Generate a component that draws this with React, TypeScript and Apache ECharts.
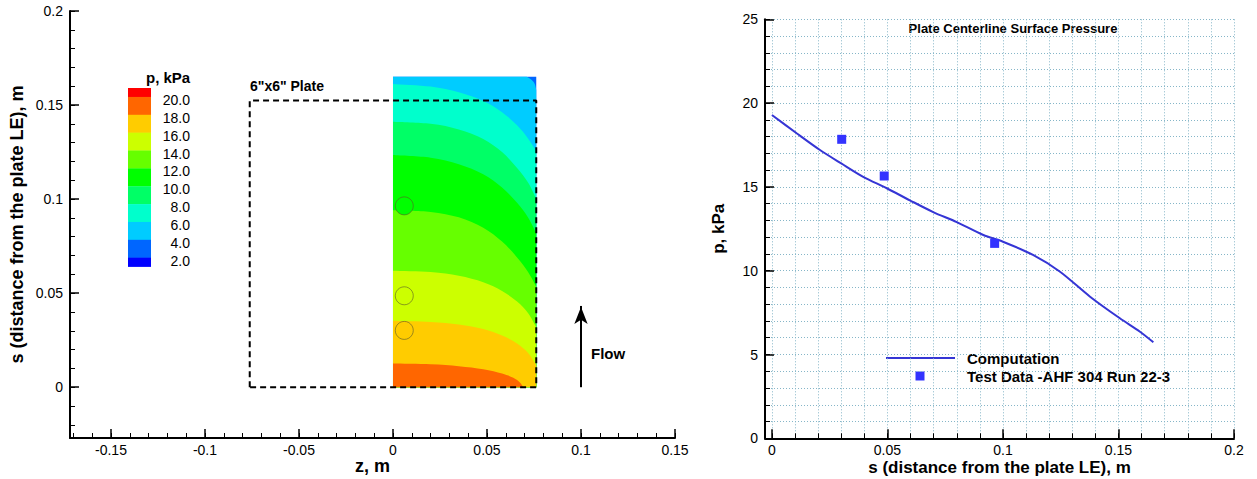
import React, { useEffect, useRef } from "react";
import * as echarts from "echarts";

const FONT = "'Liberation Sans', Arial, Helvetica, sans-serif";

// ---------- Left plot: surface pressure contour ----------
const zMajorTicks = [-0.15, -0.1, -0.05, 0, 0.05, 0.1, 0.15];
const sMajorTicks = [0, 0.05, 0.1, 0.15, 0.2];
const zMinorTicks: number[] = [];
for (let k = -17; k <= 15; k++) zMinorTicks.push(k / 100);
const sMinorTicks: number[] = [];
for (let k = -2; k <= 20; k++) sMinorTicks.push(k / 100);

// colour of each 2 kPa band, from <2 up to >20
const bandColors = [
  "#0000ff", "#0066ff", "#00ccff", "#00ffcc", "#00ff66", "#00ff00",
  "#66ff00", "#ccff00", "#ffcc00", "#ff6600", "#ff0000",
];
const legendLabels = ["20.0", "18.0", "16.0", "14.0", "12.0", "10.0", "8.0", "6.0", "4.0", "2.0"];

// contour region extent (half plate, z >= 0)
const contourZMax = 0.0762;
const contourSMax = 0.165;

// isolines [z, s]
const iso4 = [[0.0711, 0.165], [0.0738, 0.1633], [0.0754, 0.1612], [0.0762, 0.158]];
const iso6 = [[0, 0.1612], [0.02, 0.1598], [0.035, 0.1568], [0.048, 0.1522], [0.058, 0.1462], [0.066, 0.1392], [0.072, 0.132], [0.0762, 0.1255]];
const iso8 = [[0, 0.1411], [0.02, 0.14], [0.035, 0.137], [0.048, 0.132], [0.058, 0.125], [0.066, 0.1165], [0.072, 0.1085], [0.0762, 0.1]];
const iso10 = [[0, 0.1234], [0.02, 0.122], [0.035, 0.1185], [0.048, 0.1132], [0.058, 0.1062], [0.066, 0.098], [0.072, 0.09], [0.0762, 0.0818]];
const iso12 = [[0, 0.0941], [0.02, 0.0932], [0.035, 0.0903], [0.048, 0.0848], [0.058, 0.0774], [0.066, 0.069], [0.072, 0.061], [0.0762, 0.0534]];
const iso14 = [[0, 0.0619], [0.02, 0.0612], [0.035, 0.0592], [0.048, 0.0558], [0.058, 0.0512], [0.066, 0.0455], [0.072, 0.0392], [0.0762, 0.0318]];
const iso16 = [[0, 0.0353], [0.02, 0.0347], [0.035, 0.0333], [0.048, 0.0309], [0.058, 0.0275], [0.066, 0.0232], [0.072, 0.018], [0.0762, 0.0115]];
const iso18 = [[0, 0.0126], [0.02, 0.0122], [0.035, 0.0112], [0.048, 0.0096], [0.058, 0.0073], [0.064, 0.005], [0.0675, 0.0025], [0.0693, 0]];
const contourLevels = [2, 4, 6, 8, 10, 12, 14, 16, 18];
const isolines = [null, iso4, iso6, iso8, iso10, iso12, iso14, iso16, iso18];

// plate outline (6" x 6")
const plateZ = [-0.0762, -0.0762, 0.0762, 0.0762, -0.0762];
const plateS = [0, 0.1524, 0.1524, 0, 0];

// pressure taps
const probeZ = 0.006;
const testS = [0.0302, 0.0486, 0.0964];
const testP = [17.84, 15.65, 11.63];

// flow arrow
const flowZ = 0.1;
const flowS = [0, 0.0472];

// ---------- Right plot: centerline pressure ----------
const sAxisMajor = [0, 0.05, 0.1, 0.15, 0.2];
const sAxisMinor: number[] = [];
for (let k = 0; k <= 20; k++) sAxisMinor.push(k / 100);

const compS = [0, 0.0107, 0.0208, 0.03, 0.0395, 0.0497, 0.0597, 0.0698, 0.08, 0.0915, 0.1, 0.113, 0.1247, 0.1377, 0.1506, 0.1593, 0.1651];
const compP = [19.29, 18.2, 17.2, 16.4, 15.6, 14.92, 14.2, 13.5, 12.9, 12.13, 11.73, 10.94, 9.94, 8.45, 7.16, 6.36, 5.73];

const LINE_BLUE = "#3535d5";
const MARK_BLUE = "#3333ff";

function colorFor(v: number) {
  const i = Math.max(0, Math.min(10, Math.floor(v / 2)));
  return bandColors[i];
}

function smoothPath(pts: number[][]) {
  let d = `M${pts[0][0]},${pts[0][1]}`;
  for (let i = 0; i < pts.length - 1; i++) {
    const p0 = pts[Math.max(i - 1, 0)];
    const p1 = pts[i];
    const p2 = pts[i + 1];
    const p3 = pts[Math.min(i + 2, pts.length - 1)];
    const c1 = [p1[0] + (p2[0] - p0[0]) / 6, p1[1] + (p2[1] - p0[1]) / 6];
    const c2 = [p2[0] - (p3[0] - p1[0]) / 6, p2[1] - (p3[1] - p1[1]) / 6];
    d += ` C${c1[0]},${c1[1]} ${c2[0]},${c2[1]} ${p2[0]},${p2[1]}`;
  }
  return d;
}

const labelStyle = { color: "#000", fontSize: 14, fontFamily: FONT };
const nameStyle = { color: "#000", fontSize: 18, fontWeight: "bold" as const, fontFamily: FONT };

function buildOption() {
  // colour bar legend
  const barTop = 88;
  const unit = 17.86;
  const barX = 128;
  const barW = 23;
  const legendGraphics: any[] = [];
  const topDown = bandColors.slice().reverse();
  let y = barTop;
  topDown.forEach((c, i) => {
    const h = i === 0 || i === topDown.length - 1 ? unit / 2 : unit;
    legendGraphics.push({
      type: "rect",
      shape: { x: barX, y: y, width: barW, height: h + 0.3 },
      style: { fill: c },
      silent: true,
    });
    y += h;
  });
  legendLabels.forEach((t, i) => {
    legendGraphics.push({
      type: "text",
      x: 190,
      y: barTop + unit / 2 + i * unit + 3,
      style: { text: t, fill: "#000", font: `14px ${FONT}`, align: "right", verticalAlign: "middle" },
      silent: true,
    });
  });
  legendGraphics.push({
    type: "text",
    x: 146,
    y: 77,
    style: { text: "p, kPa", fill: "#000", font: `bold 15px ${FONT}`, align: "left", verticalAlign: "middle" },
  });
  legendGraphics.push({
    type: "text",
    x: 250,
    y: 86,
    style: { text: '6"x6" Plate', fill: "#000", font: `bold 14px ${FONT}`, align: "left", verticalAlign: "middle" },
  });
  legendGraphics.push({
    type: "text",
    x: 591,
    y: 353,
    style: { text: "Flow", fill: "#000", font: `bold 15px ${FONT}`, align: "left", verticalAlign: "middle" },
  });
  // right plot title and legend
  legendGraphics.push({
    type: "text",
    x: 1013,
    y: 28,
    style: { text: "Plate Centerline Surface Pressure", fill: "#000", font: `bold 13px ${FONT}`, align: "center", verticalAlign: "middle" },
  });
  legendGraphics.push({
    type: "line",
    shape: { x1: 886, y1: 358, x2: 955, y2: 358 },
    style: { stroke: LINE_BLUE, lineWidth: 2 },
  });
  legendGraphics.push({
    type: "rect",
    shape: { x: 915.5, y: 371.5, width: 9, height: 9 },
    style: { fill: MARK_BLUE },
  });
  legendGraphics.push({
    type: "text",
    x: 967,
    y: 358,
    style: { text: "Computation", fill: "#000", font: `bold 15px ${FONT}`, align: "left", verticalAlign: "middle" },
  });
  legendGraphics.push({
    type: "text",
    x: 967,
    y: 376,
    style: { text: "Test Data -AHF 304 Run 22-3", fill: "#000", font: `bold 15px ${FONT}`, align: "left", verticalAlign: "middle" },
  });

  const majorTick = (vals: number[] | null) => ({
    show: true,
    inside: true,
    length: 9,
    lineStyle: { color: "#000", width: 1.5 },
    ...(vals ? { customValues: vals } : {}),
  });
  const minorTick = (vals: number[] | null) => ({
    show: true,
    inside: true,
    length: 5,
    lineStyle: { color: "#000", width: 1 },
    ...(vals ? { customValues: vals } : {}),
  });
  const gridDots = { show: true, lineStyle: { color: "#86b6c8", width: 1, type: [1, 2] } };

  return {
    animation: false,
    backgroundColor: "#fff",
    textStyle: { fontFamily: FONT },
    grid: [
      { left: 70, top: 11, width: 605, height: 427, containLabel: false, outerBoundsMode: "none" },
      { left: 765, top: 19.3, width: 469, height: 419, containLabel: false, outerBoundsMode: "none" },
    ],
    xAxis: [
      {
        type: "value", gridIndex: 0, min: -0.1718, max: 0.15, position: "bottom",
        axisLine: { onZero: false, lineStyle: { color: "#000", width: 2 } },
        axisTick: majorTick(zMajorTicks),
        axisLabel: { ...labelStyle, margin: 5, customValues: zMajorTicks },
        splitLine: { show: false },
        name: "z, m", nameLocation: "middle", nameGap: 19, nameMoveOverlap: false,
        nameTextStyle: { ...nameStyle, lineHeight: 18 },
      },
      {
        type: "value", gridIndex: 0, min: -0.1718, max: 0.15, position: "bottom",
        axisLine: { show: false, onZero: false },
        axisTick: minorTick(zMinorTicks),
        axisLabel: { show: false },
        splitLine: { show: false },
      },
      {
        type: "value", gridIndex: 1, min: -0.003, max: 0.2, position: "bottom",
        axisLine: { onZero: false, lineStyle: { color: "#000", width: 2 } },
        axisTick: majorTick(sAxisMajor),
        axisLabel: { ...labelStyle, margin: 5, customValues: sAxisMajor },
        splitLine: { show: false },
        name: "s (distance from the plate LE), m", nameLocation: "middle", nameGap: 21, nameMoveOverlap: false,
        nameTextStyle: { ...nameStyle, fontSize: 17, lineHeight: 17 },
      },
      {
        type: "value", gridIndex: 1, min: -0.003, max: 0.2, position: "bottom",
        axisLine: { show: false, onZero: false },
        axisTick: minorTick(sAxisMinor),
        axisLabel: { show: false },
        splitLine: gridDots,
      },
    ],
    yAxis: [
      {
        type: "value", gridIndex: 0, min: -0.027, max: 0.2, position: "left",
        axisLine: { onZero: false, lineStyle: { color: "#000", width: 2 } },
        axisTick: majorTick(sMajorTicks),
        axisLabel: { ...labelStyle, margin: 7, customValues: sMajorTicks },
        splitLine: { show: false },
        name: "s (distance from the plate LE), m", nameLocation: "middle", nameGap: 44, nameMoveOverlap: false,
        nameTextStyle: nameStyle,
      },
      {
        type: "value", gridIndex: 0, min: -0.027, max: 0.2, position: "left",
        axisLine: { show: false, onZero: false },
        axisTick: minorTick(sMinorTicks),
        axisLabel: { show: false },
        splitLine: { show: false },
      },
      {
        type: "value", gridIndex: 1, min: 0, max: 25, interval: 5, position: "left",
        axisLine: { onZero: false, lineStyle: { color: "#000", width: 2 } },
        axisTick: majorTick(null),
        axisLabel: { ...labelStyle, margin: 7 },
        splitLine: { show: false },
        name: "p, kPa", nameLocation: "middle", nameGap: 38, nameMoveOverlap: false,
        nameTextStyle: { ...nameStyle, fontSize: 17 },
      },
      {
        type: "value", gridIndex: 1, min: 0, max: 25, interval: 1, position: "left",
        axisLine: { show: false, onZero: false },
        axisTick: minorTick(null),
        axisLabel: { show: false },
        splitLine: gridDots,
      },
    ],
    graphic: legendGraphics,
    series: [
      {
        name: "Pressure contour",
        type: "custom",
        xAxisIndex: 0,
        yAxisIndex: 0,
        silent: true,
        data: contourLevels.map((L) => [L]),
        renderItem: (params: any, api: any) => {
          const idx = params.dataIndex;
          const L = contourLevels[idx];
          const color = bandColors[L / 2];
          if (idx === 0) {
            const p0 = api.coord([0, 0]);
            const p1 = api.coord([contourZMax, contourSMax]);
            return {
              type: "rect",
              shape: { x: p0[0], y: p1[1], width: p1[0] - p0[0], height: p0[1] - p1[1] },
              style: { fill: color },
            };
          }
          const iso = isolines[idx] as number[][];
          const pts = iso.map((p) => api.coord(p));
          let d = smoothPath(pts);
          const first = iso[0];
          const last = iso[iso.length - 1];
          if (last[1] > 0) {
            const c = api.coord([contourZMax, 0]);
            d += ` L${c[0]},${c[1]}`;
          }
          const o = api.coord([0, 0]);
          d += ` L${o[0]},${o[1]}`;
          if (first[0] > 0) {
            const c = api.coord([0, contourSMax]);
            d += ` L${c[0]},${c[1]}`;
          }
          d += " Z";
          return { type: "path", shape: { pathData: d }, style: { fill: color } };
        },
        z: 1,
      },
      {
        name: "Pressure taps",
        type: "scatter",
        xAxisIndex: 0,
        yAxisIndex: 0,
        silent: true,
        symbol: "circle",
        symbolSize: 18,
        data: testS.map((s, i) => ({
          value: [probeZ, s],
          itemStyle: { color: colorFor(testP[i]), opacity: 1, borderColor: "rgba(90,90,40,0.6)", borderWidth: 1 },
        })),
        z: 2,
      },
      {
        name: "Plate",
        type: "line",
        xAxisIndex: 0,
        yAxisIndex: 0,
        silent: true,
        symbol: "none",
        lineStyle: { color: "#000", width: 2, type: [6, 4] },
        data: plateZ.map((z, i) => [z, plateS[i]]),
        z: 3,
      },
      {
        name: "Flow",
        type: "line",
        xAxisIndex: 0,
        yAxisIndex: 0,
        silent: true,
        symbol: "none",
        lineStyle: { color: "#000", width: 2 },
        data: flowS.map((s) => [flowZ, s - (s > 0 ? 0.004 : 0)]),
        z: 3,
      },
      {
        name: "Flow arrow",
        type: "scatter",
        xAxisIndex: 0,
        yAxisIndex: 0,
        silent: true,
        symbol: "arrow",
        symbolSize: [10, 17],
        symbolOffset: [0, 8.5],
        itemStyle: { color: "#000", opacity: 1 },
        data: [[flowZ, flowS[1]]],
        z: 4,
      },
      {
        name: "Computation",
        type: "line",
        xAxisIndex: 2,
        yAxisIndex: 2,
        silent: true,
        symbol: "none",
        smooth: 0.3,
        lineStyle: { color: LINE_BLUE, width: 2 },
        data: compS.map((s, i) => [s, compP[i]]),
        z: 3,
      },
      {
        name: "Test Data -AHF 304 Run 22-3",
        type: "scatter",
        xAxisIndex: 2,
        yAxisIndex: 2,
        silent: true,
        symbol: "rect",
        symbolSize: 9,
        itemStyle: { color: MARK_BLUE, opacity: 1 },
        data: testS.map((s, i) => [s, testP[i]]),
        z: 4,
      },
    ],
  };
}

export default function App() {
  const ref = useRef<HTMLDivElement>(null);
  useEffect(() => {
    if (!ref.current) return;
    const chart = echarts.init(ref.current, null, { renderer: "svg" });
    chart.setOption(buildOption() as any);
    return () => chart.dispose();
  }, []);
  return (
    <div
      ref={ref}
      style={{ position: "fixed", left: 0, top: 0, width: 1257, height: 479, background: "#fff" }}
    />
  );
}
